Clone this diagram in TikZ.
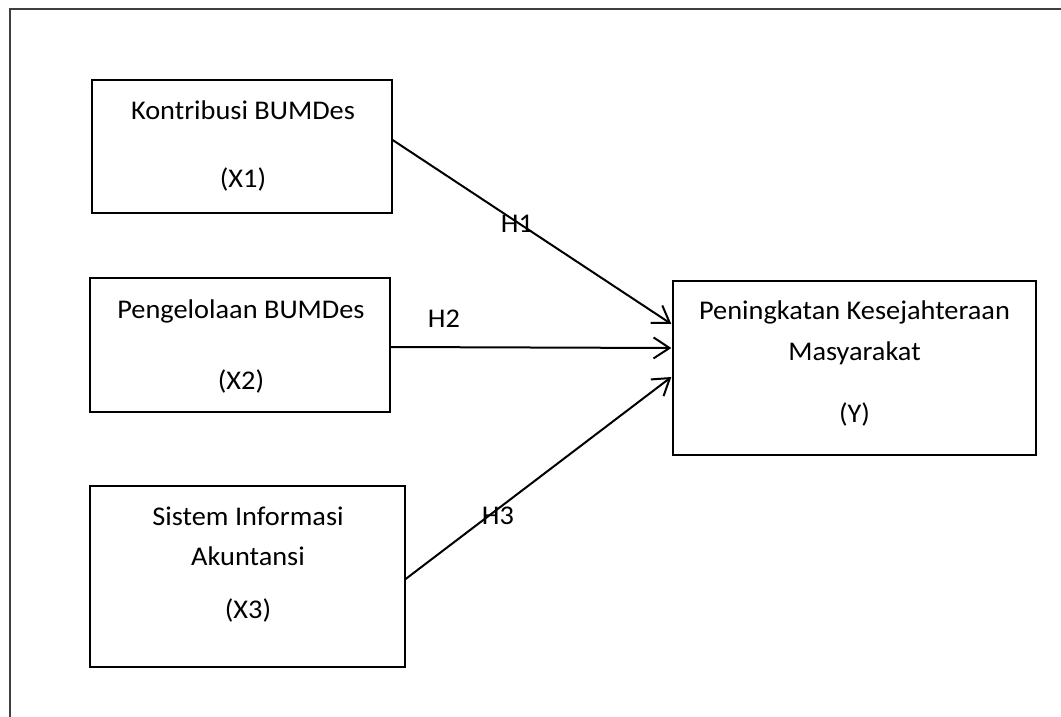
\documentclass[tikz,border=0pt]{standalone}
\usepackage{fontspec}
\setmainfont{Carlito}[FakeStretch=1.05]
\usetikzlibrary{arrows.meta}
\begin{document}
\begin{tikzpicture}[x=1pt,y=-1pt,
  box/.style={draw=black,line width=1.3pt,rectangle,inner sep=0pt},
  txt/.style={anchor=base,inner sep=0pt,font=\fontsize{27}{32}\selectfont},
  conn/.style={line width=2pt,-{Straight Barb[length=16pt,width=21pt,line width=2pt]}},
  frame/.style={draw=black!75,line width=1.8pt}]
\useasboundingbox (0,0) rectangle (1061,717);
\draw[frame] (10,717) -- (10,9) -- (1061,9);
% boxes
\node[box,minimum width=300pt,minimum height=133pt] (b1) at (242,146.5) {};
\node[box,minimum width=300pt,minimum height=134pt] (b2) at (240,345) {};
\node[box,minimum width=315pt,minimum height=181pt] (b3) at (247.5,576.5) {};
\node[box,minimum width=363pt,minimum height=174pt] (by) at (854.5,368) {};
% texts
\node[txt] (t1a) at (243,120) {Kontribusi BUMDes};
\node[txt] (t1b) at (243,187) {(X1)};
\node[txt] (t2a) at (241,318) {Pengelolaan BUMDes};
\node[txt] (t2b) at (241,389) {(X2)};
\node[txt] (t3a) at (248,525) {Sistem Informasi};
\node[txt] (t3b) at (248,565) {Akuntansi};
\node[txt] (t3c) at (248,618) {(X3)};
\node[txt] (tya) at (854.5,319) {Peningkatan Kesejahteraan};
\node[txt] (tyb) at (854.5,360) {Masyarakat};
\node[txt] (tyc) at (854.5,422) {(Y)};
% connectors
\draw[conn] ([yshift=6.5pt]b1.east) -- ([yshift=44pt,xshift=-1pt]by.west);
\draw[conn] ([yshift=-2pt]b2.east) -- ([yshift=20pt,xshift=-1pt]by.west);
\draw[conn] ([yshift=-2.5pt]b3.east) -- ([yshift=-9pt,xshift=-1pt]by.west);
% labels
\node[txt] (h1) at (517,232) {H1};
\node[txt] (h2) at (444,327) {H2};
\node[txt] (h3) at (498,524) {H3};
\end{tikzpicture}
\end{document}
